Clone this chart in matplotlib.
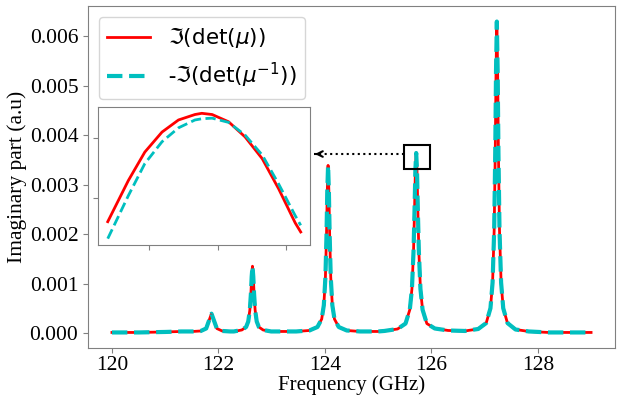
import matplotlib.pyplot as plt
from matplotlib.patches import Rectangle

plt.rcParams['font.family'] = ['Liberation Serif', 'DejaVu Sans']
plt.rcParams['mathtext.fontset'] = 'dejavusans'

# main spectrum (GHz, a.u.)
freq = [120.0, 120.5, 121.0, 121.3, 121.52, 121.67, 121.77, 121.84, 121.87, 121.90,
        121.97, 122.07, 122.22, 122.29, 122.44, 122.52, 122.56, 122.59, 122.61, 122.625,
        122.64, 122.655, 122.67, 122.69, 122.72, 122.76, 122.84, 122.99, 123.24, 123.46,
        123.71, 123.86, 123.94, 123.98, 124.01, 124.03, 124.045, 124.06, 124.075, 124.09,
        124.11, 124.14, 124.18, 124.26, 124.41, 124.66, 125.0, 125.115, 125.365, 125.515,
        125.595, 125.635, 125.665, 125.685, 125.70, 125.715, 125.73, 125.745, 125.765, 125.795,
        125.835, 125.915, 126.065, 126.315, 126.63, 126.88, 127.03, 127.11, 127.15, 127.18,
        127.2, 127.215, 127.23, 127.245, 127.26, 127.28, 127.31, 127.35, 127.43, 127.58,
        127.83, 128.2, 128.6, 129.0]
im_det_mu = [0.00001, 0.00001, 0.00002, 0.00003, 0.00003, 0.00004, 0.00009, 0.0003, 0.00039, 0.0003,
             0.00009, 0.00004, 0.00003, 0.00003, 0.00006, 0.00012, 0.00023, 0.00046, 0.00079, 0.00114,
             0.00135, 0.00114, 0.00079, 0.00046, 0.00023, 0.00012, 0.00006, 0.00003, 0.00003, 0.00003,
             0.00005, 0.00012, 0.00028, 0.00056, 0.00113, 0.00196, 0.00287, 0.00339, 0.00287, 0.00196,
             0.00113, 0.00056, 0.00028, 0.00012, 0.00005, 0.00003, 0.00003, 0.00004, 0.00008, 0.00019,
             0.00047, 0.00089, 0.00165, 0.00254, 0.0033, 0.00364, 0.0033, 0.00254, 0.00165, 0.00089,
             0.00047, 0.00019, 0.00009, 0.00005, 0.00004, 0.00008, 0.0002, 0.0005, 0.00102, 0.00208,
             0.00364, 0.00533, 0.0063, 0.00533, 0.00364, 0.00208, 0.00102, 0.0005, 0.0002, 0.00007,
             0.00003, 0.00001, 0.00001, 0.00001]
# the two curves coincide at this scale
neg_im_det_mu_inv = list(im_det_mu)

# zoom on the top of the 125.7 GHz peak
inset_freq = [125.7040, 125.7070, 125.7094, 125.7119, 125.7143, 125.7167, 125.7177,
              125.7192, 125.7216, 125.7240, 125.7265, 125.7289, 125.7313, 125.7321]
inset_red = [0.003461, 0.003529, 0.003576, 0.003609, 0.003629, 0.003638, 0.00364,
             0.003638, 0.003626, 0.003601, 0.003565, 0.003515, 0.003459, 0.003444]
inset_cyan = [0.003433, 0.003504, 0.003557, 0.003593, 0.003616, 0.003629, 0.003631,
              0.003632, 0.003625, 0.003604, 0.003571, 0.003523, 0.003471, 0.003455]

fig = plt.figure(figsize=(6.17, 3.95), dpi=100)
ax = fig.add_axes([0.1426, 0.119, 0.8542, 0.8658])

ax.plot(freq, im_det_mu, color='r', lw=2, label=r'$\Im(\det(\mu))$')
ax.plot(freq, neg_im_det_mu_inv, color='c', lw=3, ls='--', label=r'-$\Im(\det(\mu^{-1}))$')

ax.set_xlabel('Frequency (GHz)', fontsize=15)
ax.xaxis.set_label_coords(0.5, -0.124)
ax.xaxis.label.set_va('baseline')
ax.set_ylabel('Imaginary part (a.u)', fontsize=15.5, labelpad=2)
ax.set_xticks([120, 122, 124, 126, 128])
ax.set_yticks([0.0, 0.001, 0.002, 0.003, 0.004, 0.005, 0.006])
ax.tick_params(labelsize=15.5, color='gray')
ax.tick_params(axis='x', pad=2)
for s in ax.spines.values():
    s.set_color('gray')
ax.legend(loc='upper left', fontsize=15.5, handlelength=2)

# box around the zoomed region and dotted arrow to the inset
ax.add_patch(Rectangle((125.49, 0.00332), 0.48, 0.00048, fill=False, ec='k', lw=1.5, zorder=5))
ax.plot([125.49, 123.8], [0.00362, 0.00362], color='k', ls=':', lw=1.5)
ax.annotate('', xy=(123.76, 0.00362), xytext=(123.9, 0.00362),
            arrowprops=dict(arrowstyle='->', color='k', lw=1.5))

axin = fig.add_axes([0.159, 0.380, 0.344, 0.349])
axin.plot(inset_freq, inset_red, color='r', lw=2)
axin.plot(inset_freq, inset_cyan, color='c', lw=2, ls='--')
axin.set_xticks([125.71, 125.72, 125.73])
axin.set_yticks([0.0035, 0.0036])
axin.set_xticklabels([])
axin.set_yticklabels([])
axin.tick_params(color='gray')
for s in axin.spines.values():
    s.set_color('gray')

fig.savefig('out.png', dpi=100)
